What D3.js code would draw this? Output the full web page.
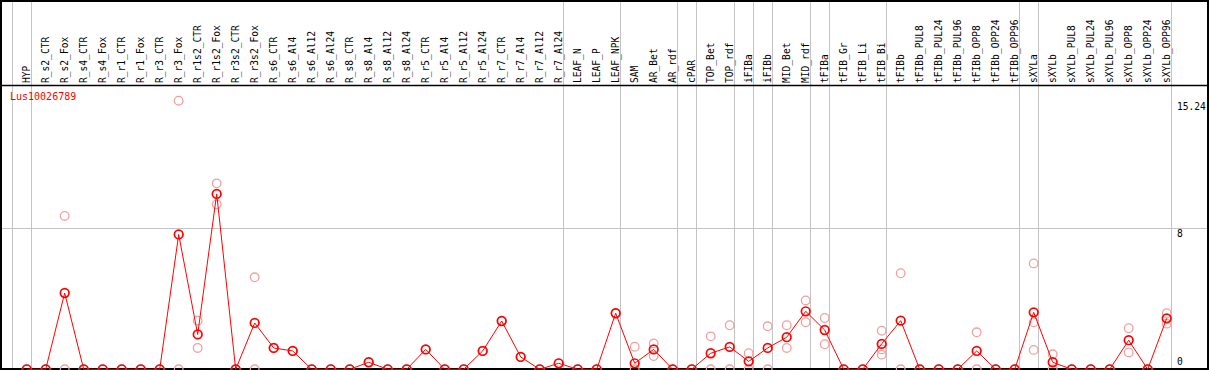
<!DOCTYPE html>
<html>
<head>
<meta charset="utf-8">
<script src="https://cdn.jsdelivr.net/npm/d3@7"></script>
<style>
  html, body { margin: 0; padding: 0; background: #fff; }
  text { font-family: "DejaVu Sans Mono", "Liberation Mono", monospace; }
</style>
</head>
<body>
<div id="chart"></div>
<script>
const geneName = 'Lus10026789';

const samples = [
    'HYP', 'R_s2_CTR', 'R_s2_Fox', 'R_s4_CTR', 'R_s4_Fox', 'R_r1_CTR', 'R_r1_Fox',
    'R_r3_CTR', 'R_r3_Fox', 'R_r1s2_CTR', 'R_r1s2_Fox', 'R_r3s2_CTR', 'R_r3s2_Fox',
    'R_s6_CTR', 'R_s6_Al4', 'R_s6_Al12', 'R_s6_Al24', 'R_s8_CTR', 'R_s8_Al4', 'R_s8_Al12',
    'R_s8_Al24', 'R_r5_CTR', 'R_r5_Al4', 'R_r5_Al12', 'R_r5_Al24', 'R_r7_CTR', 'R_r7_Al4',
    'R_r7_Al12', 'R_r7_Al24', 'LEAF_N', 'LEAF_P', 'LEAF_NPK', 'SAM', 'AR_Bet', 'AR_rdf',
    'cPAR', 'TOP_Bet', 'TOP_rdf', 'iFIBa', 'iFIBb', 'MID_Bet', 'MID_rdf', 'tFIBa',
    'tFIB_Gr', 'tFIB_Li', 'tFIB_Bi', 'tFIBb', 'tFIBb_PUL8', 'tFIBb_PUL24', 'tFIBb_PUL96',
    'tFIBb_OPP8', 'tFIBb_OPP24', 'tFIBb_OPP96', 'sXYLa', 'sXYLb', 'sXYLb_PUL8',
    'sXYLb_PUL24', 'sXYLb_PUL96', 'sXYLb_OPP8', 'sXYLb_OPP24', 'sXYLb_OPP96'
];

// mean expression per sample
const means = [
    0, 0, 4.33, 0, 0, 0, 0, 0, 7.65, 1.98, 9.95, 0, 2.63,
    1.21, 1.04, 0, 0, 0, 0.40, 0, 0, 1.13, 0, 0, 1.04, 2.74, 0.70, 0, 0.34,
    0, 0, 3.18, 0.34, 1.13, 0, 0, 0.91, 1.27, 0.45, 1.21, 1.82, 3.29, 2.23,
    0, 0, 1.44, 2.76, 0, 0, 0, 1.04, 0, 0, 3.23, 0.40, 0, 0, 0, 1.65, 0, 2.89
];

// individual replicates per sample
const reps = [
    [0, 0], [0, 0], [8.70, 0], [0, 0], [0, 0], [0, 0], [0, 0], [0, 0], [15.24, 0],
    [2.76, 1.21], [10.55, 9.36], [0, 0], [5.22, 0],
    [1.21], [1.04], [0, 0], [0, 0], [0, 0], [0.40], [0, 0], [0, 0], [1.13], [0, 0], [0, 0],
    [1.04], [2.74], [0.70], [0, 0], [0.34],
    [0, 0], [0, 0], [3.18], [1.28, 0], [1.47, 0.75], [0, 0], [0, 0], [1.87, 0], [2.50, 0],
    [0.91, 0], [2.44, 0], [2.50, 1.21], [3.91, 2.67], [2.91, 1.42],
    [0, 0], [0, 0], [2.19, 1.13, 0.83], [5.45, 0], [0, 0], [0, 0], [0, 0], [2.10, 0], [0, 0], [0, 0],
    [6.01, 2.67, 1.10], [0.85, 0], [0, 0], [0, 0], [0, 0], [2.33, 0.96], [0, 0], [3.18, 2.59]
];

// sample index that closes each group (separator drawn after it)
const groupEnds = [-1, 0, 28, 31, 34, 35, 37, 38, 39, 41, 42, 45, 52, 53, 60];

const yTicks = [0, 8, 15.24];

const W = 1209, H = 370;

const svg = d3.select('#chart').append('svg')
    .attr('width', W)
    .attr('height', H);

const x = d3.scalePoint()
    .domain(samples)
    .range([26.7, 26.7 + 19 * (samples.length - 1)]);

const step = x.step();
const xi = (i) => x.range()[0] + step * i;

const y = d3.scaleLinear()
    .domain([0, 15.24])
    .range([369.3, 100.7]);

// grid
svg.append('g').selectAll('line')
    .data(groupEnds)
    .enter()
    .append('line')
    .attr('x1', (d) => Math.round(xi(d) + 4) + 0.5)
    .attr('x2', (d) => Math.round(xi(d) + 4) + 0.5)
    .attr('y1', 0)
    .attr('y2', H)
    .attr('stroke', '#c4c4c4')
    .attr('stroke-width', 1);

svg.append('line')
    .attr('x1', 0)
    .attr('x2', W)
    .attr('y1', Math.round(y(8)) + 0.5)
    .attr('y2', Math.round(y(8)) + 0.5)
    .attr('stroke', '#c4c4c4')
    .attr('stroke-width', 1);

// frame and header separator
svg.append('rect')
    .attr('x', 1)
    .attr('y', 1)
    .attr('width', W - 2)
    .attr('height', H - 2)
    .attr('fill', 'none')
    .attr('stroke', '#000')
    .attr('stroke-width', 2);

svg.append('line')
    .attr('x1', 0)
    .attr('x2', W)
    .attr('y1', 85.5)
    .attr('y2', 85.5)
    .attr('stroke', '#000')
    .attr('stroke-width', 1.5);

// column labels
svg.append('g').selectAll('text')
    .data(samples)
    .enter()
    .append('text')
    .attr('transform', (d) => `translate(${x(d) + 3},83) rotate(-90)`)
    .attr('font-size', '9.6px')
    .attr('fill', '#000')
    .text((d) => d);

// y labels
svg.append('g').selectAll('text')
    .data(yTicks)
    .enter()
    .append('text')
    .attr('x', 1177)
    .attr('y', (d) => d === 0 ? y(d) - 4 : y(d) + 9)
    .attr('font-size', '9.6px')
    .attr('fill', '#000')
    .text((d) => d);

svg.append('text')
    .attr('x', 10)
    .attr('y', 100)
    .attr('font-size', '10px')
    .attr('fill', '#ff0000')
    .text(geneName);

// replicates
const repPts = [];
reps.forEach((r, i) => r.forEach((v) => repPts.push({ s: samples[i], v: v })));

svg.append('g').selectAll('circle')
    .data(repPts)
    .enter()
    .append('circle')
    .attr('cx', (d) => x(d.s))
    .attr('cy', (d) => y(d.v))
    .attr('r', 4.3)
    .attr('fill', 'none')
    .attr('stroke', '#f0a0a0')
    .attr('stroke-width', 1.3);

// mean line
const line = d3.line()
    .x((d, i) => x(samples[i]))
    .y((d) => y(d));

svg.append('path')
    .datum(means)
    .attr('d', line)
    .attr('fill', 'none')
    .attr('stroke', '#ff0000')
    .attr('stroke-width', 1);

svg.append('g').selectAll('circle')
    .data(means)
    .enter()
    .append('circle')
    .attr('cx', (d, i) => x(samples[i]))
    .attr('cy', (d) => y(d))
    .attr('r', 4.3)
    .attr('fill', 'none')
    .attr('stroke', '#ff0000')
    .attr('stroke-width', 1.7);
</script>
</body>
</html>
